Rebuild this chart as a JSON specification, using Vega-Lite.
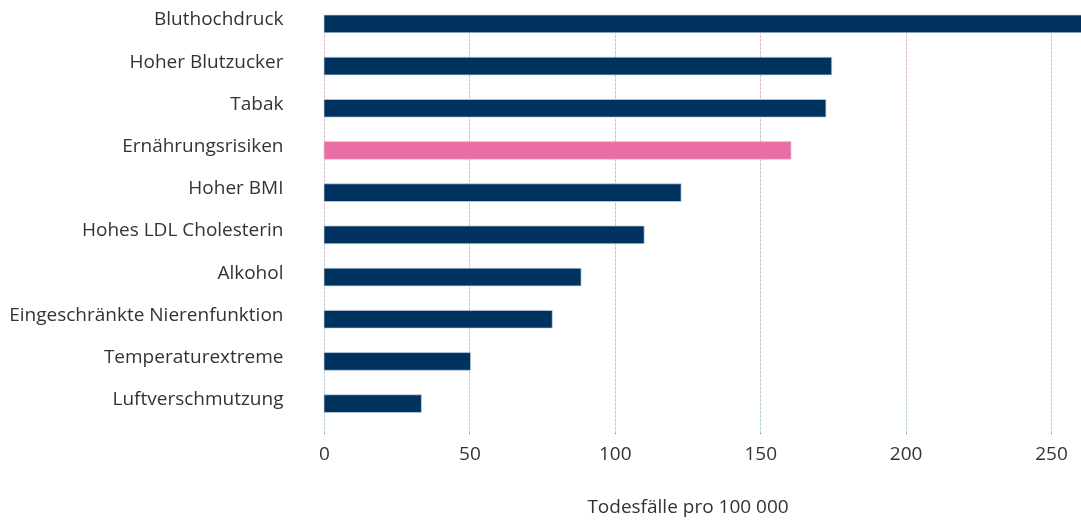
{
  "$schema": "https://vega.github.io/schema/vega-lite/v6.json",
  "width": 727,
  "height": 418,
  "autosize": {"type": "none"},
  "padding": {"left": 324, "top": 15, "right": 30, "bottom": 87},
  "background": "white",
  "config": {"view": {"stroke": null}, "font": "Open Sans"},
  "data": {"values": [
    {"risk": "Bluthochdruck", "value": 265, "highlight": "no"},
    {"risk": "Hoher Blutzucker", "value": 174.6, "highlight": "no"},
    {"risk": "Tabak", "value": 172.6, "highlight": "no"},
    {"risk": "Ernährungsrisiken", "value": 160.6, "highlight": "yes"},
    {"risk": "Hoher BMI", "value": 122.8, "highlight": "no"},
    {"risk": "Hohes LDL Cholesterin", "value": 110.1, "highlight": "no"},
    {"risk": "Alkohol", "value": 88.4, "highlight": "no"},
    {"risk": "Eingeschränkte Nierenfunktion", "value": 78.5, "highlight": "no"},
    {"risk": "Temperaturextreme", "value": 50.4, "highlight": "no"},
    {"risk": "Luftverschmutzung", "value": 33.5, "highlight": "no"}
  ]},
  "encoding": {
    "y": {
      "field": "risk", "type": "nominal", "sort": null,
      "scale": {"paddingInner": 0.58, "paddingOuter": 0.243, "align": 0},
      "axis": {"title": null, "domain": false, "ticks": false, "grid": false, "labelPadding": 41, "labelFontSize": 19, "labelColor": "#333333", "labelOffset": -4.5, "labelLimit": 400}
    },
    "x": {
      "field": "value", "type": "quantitative",
      "scale": {"domain": [0, 250], "nice": false},
      "axis": {
        "title": "Todesfälle pro 100 000", "titleFontSize": 19, "titleFontWeight": "normal", "titleColor": "#333333", "titlePadding": 34,
        "values": [0, 50, 100, 150, 200, 250], "labelFlush": false,
        "domain": false, "ticks": false, "labelPadding": 11, "labelFontSize": 19, "labelColor": "#333333",
        "grid": true, "gridDash": [2, 2], "gridWidth": 1, "gridColor": "#000000", "gridOpacity": 1
      }
    }
  },
  "layer": [
    {
      "mark": {"type": "rect", "blend": "lighten", "fill": {"gradient": "linear", "x1": 0, "y1": 0, "x2": 0, "y2": 1, "stops": [{"offset": 0, "color": "#f5aebd"}, {"offset": 0.5, "color": "#c9bcd6"}, {"offset": 1, "color": "#acd6ea"}]}},
      "encoding": {
        "x": {"datum": -2, "type": "quantitative"},
        "x2": {"datum": 252},
        "y": {"value": 0},
        "y2": {"value": {"expr": "height"}}
      }
    },
    {
      "mark": {"type": "bar", "clip": false, "stroke": "#c9d4e2", "strokeWidth": 1, "strokeOpacity": 0.7},
      "encoding": {
        "color": {
          "field": "highlight", "type": "nominal",
          "scale": {"domain": ["no", "yes"], "range": ["#00325f", "#ec6ca5"]},
          "legend": null
        }
      }
    }
  ]
}
